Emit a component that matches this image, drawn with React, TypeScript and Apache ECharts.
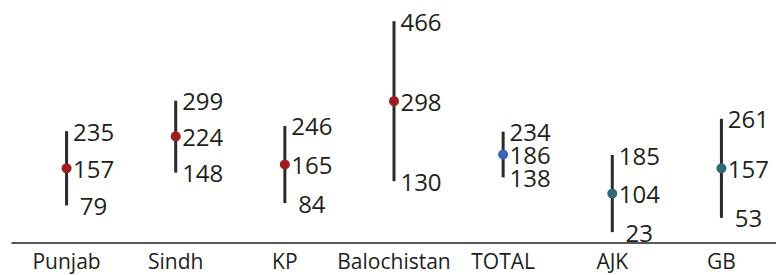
import React, { useEffect, useRef } from "react";
import * as echarts from "echarts";

const categories = ["Punjab", "Sindh", "KP", "Balochistan", "TOTAL", "AJK", "GB"];
const lowValues = [79, 148, 84, 130, 138, 23, 53];
const midValues = [157, 224, 165, 298, 186, 104, 157];
const highValues = [235, 299, 246, 466, 234, 185, 261];
const dotColors = ["#9c1c20", "#9c1c20", "#9c1c20", "#9c1c20", "#3b62b3", "#2f6a70", "#2f6a70"];

const INK = "#231f20";
const FONT = "'Open Sans', 'Noto Sans', sans-serif";

export default function App() {
  const ref = useRef<HTMLDivElement>(null);
  useEffect(() => {
    if (!ref.current) return;
    const chart = echarts.init(ref.current, null, { renderer: "svg" });
    const data = categories.map((_, i) => [i, lowValues[i], midValues[i], highValues[i]]);
    chart.setOption({
      animation: false,
      grid: { left: 12, right: -3, top: 5, bottom: 30, containLabel: false },
      xAxis: {
        type: "category",
        data: categories,
        axisLine: { show: true, lineStyle: { color: INK, width: 1.5 } },
        axisTick: { show: false },
        axisLabel: {
          color: INK,
          fontSize: 21,
          fontFamily: FONT,
          margin: 5,
          interval: 0,
          lineHeight: 22,
        },
        splitLine: { show: false },
      },
      yAxis: {
        type: "value",
        min: -4,
        max: 500,
        show: false,
        splitLine: { show: false },
      },
      series: [
        {
          type: "custom",
          data,
          encode: { x: 0, y: [1, 2, 3] },
          renderItem: (params: any, api: any) => {
            const i = api.value(0);
            const lo = api.coord([i, api.value(1)]);
            const mid = api.coord([i, api.value(2)]);
            const hi = api.coord([i, api.value(3)]);
            const textStyle = (t: number, p: number[]) => ({
              type: "text",
              x: p[0] + 27,
              y: p[1],
              style: {
                text: String(t),
                fill: INK,
                fontSize: 24,
                fontFamily: FONT,
                lineHeight: 20,
                align: "center",
                verticalAlign: "middle",
              },
            });
            return {
              type: "group",
              children: [
                {
                  type: "line",
                  shape: { x1: lo[0], y1: lo[1], x2: hi[0], y2: hi[1] },
                  style: { stroke: "#2b2a2a", lineWidth: 3 },
                },
                {
                  type: "circle",
                  shape: { cx: mid[0], cy: mid[1], r: 5 },
                  style: { fill: dotColors[params.dataIndex] },
                },
                textStyle(api.value(3), hi),
                textStyle(api.value(2), mid),
                textStyle(api.value(1), lo),
              ],
            };
          },
        },
      ],
    });
    return () => chart.dispose();
  }, []);
  return (
    <div
      ref={ref}
      style={{ position: "fixed", left: 0, top: 0, width: 776, height: 275, background: "#fff" }}
    />
  );
}
